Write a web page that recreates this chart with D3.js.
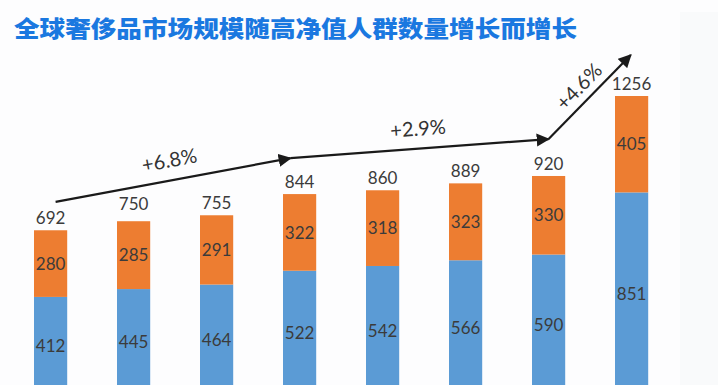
<!DOCTYPE html>
<html><head><meta charset="utf-8">
<script src="https://cdn.jsdelivr.net/npm/d3@7"></script>
<style>html,body{margin:0;padding:0;background:#fff;}svg{display:block;}</style>
</head><body>
<svg id="c" width="718" height="385"></svg>
<script>
const categories = ["1","2","3","4","5","6","7","8"];
const seriesBlue = [412,445,464,522,542,566,590,851];
const seriesOrange = [280,285,291,322,318,323,330,405];
const totals = [692,750,755,844,860,889,920,1256];
const trendIndex = [0.06, 2.89, 6.0, 6.99];
const trendValue = [811, 995, 1075, 1428];
const trendLabels = ["+6.8%","+2.9%","+4.6%"];
const titleText = "全球奢侈品市场规模随高净值人群数量增长而增长";

const svg = d3.select("#c");
svg.append("rect").attr("width",718).attr("height",385).attr("fill","#fdfdfe");
svg.append("rect").attr("x",680).attr("y",12).attr("width",38).attr("height",373).attr("fill","#f9fafb");

const x = d3.scaleBand().domain(categories).range([9.1, 673.1]).paddingInner(0.6).paddingOuter(0.3);
const y = d3.scaleLinear().domain([0,1256]).range([395,96]);
const bw = x.bandwidth();
const xi = d3.scaleLinear().domain([0,7]).range([x(categories[0])+bw/2, x(categories[7])+bw/2]);

const font = "Lato, 'Open Sans', sans-serif";
const g = svg.append("g");
const data = categories.map((c,i)=>({c, b:seriesBlue[i], o:seriesOrange[i], t:totals[i]}));

g.selectAll(".blue").data(data).join("rect")
  .attr("x",d=>x(d.c)).attr("width",bw)
  .attr("y",d=>y(d.b)).attr("height",d=>y(0)-y(d.b)).attr("fill","#5B9BD5");
g.selectAll(".orange").data(data).join("rect")
  .attr("x",d=>x(d.c)).attr("width",bw)
  .attr("y",d=>y(d.b+d.o)).attr("height",d=>y(d.b)-y(d.b+d.o)).attr("fill","#ED7D31");

const lbl = (sel)=>sel.attr("text-anchor","middle").attr("font-family",font).attr("font-size",17).attr("fill","#3b3b3b");
g.selectAll(".lb").data(data).join("text").call(lbl)
  .attr("x",d=>x(d.c)+bw/2).attr("y",d=>(y(0)+y(d.b))/2).attr("dy","0.36em").text(d=>d.b);
g.selectAll(".lo").data(data).join("text").call(lbl)
  .attr("x",d=>x(d.c)+bw/2).attr("y",d=>(y(d.b)+y(d.b+d.o))/2).attr("dy","0.36em").text(d=>d.o);
g.selectAll(".lt").data(data).join("text").call(lbl)
  .attr("x",d=>x(d.c)+bw/2).attr("y",d=>y(d.t)-6).text(d=>d.t);

// trend arrows
const defs = svg.append("defs");
defs.append("marker").attr("id","ah").attr("viewBox","0 0 10 10").attr("refX",9).attr("refY",5)
  .attr("markerWidth",6).attr("markerHeight",6).attr("orient","auto").attr("markerUnits","strokeWidth")
  .append("path").attr("d","M0,0 L10,5 L0,10 Z").attr("fill","#1a1a1a");
const pts = trendIndex.map((t,i)=>[xi(t), y(trendValue[i])]);
const offs = [20, 20, 15];
for(let i=0;i<3;i++){
  const [x1,y1]=pts[i], [x2,y2]=pts[i+1];
  g.append("line").attr("x1",x1).attr("y1",y1).attr("x2",x2).attr("y2",y2)
    .attr("stroke","#1a1a1a").attr("stroke-width",2.2).attr("marker-end","url(#ah)");
  const ang = Math.atan2(y2-y1,x2-x1);
  const mx=(x1+x2)/2, my=(y1+y2)/2;
  const nx=Math.sin(ang), ny=-Math.cos(ang);
  const lx=mx+nx*offs[i], ly=my+ny*offs[i];
  const deg = ang*180/Math.PI;
  g.append("text").attr("transform",`translate(${lx},${ly}) rotate(${deg})`)
    .attr("text-anchor","middle").attr("dy","0.35em").attr("font-family",font).attr("font-size",20)
    .attr("fill","#333").text(trendLabels[i]);
}

svg.append("text").attr("x",14).attr("y",37).attr("font-family","'Noto Sans CJK SC', sans-serif")
  .attr("font-weight",900).attr("font-size",23).attr("fill","#1a78e0")
  .attr("textLength",563).attr("lengthAdjust","spacingAndGlyphs").text(titleText);
</script>
</body></html>
